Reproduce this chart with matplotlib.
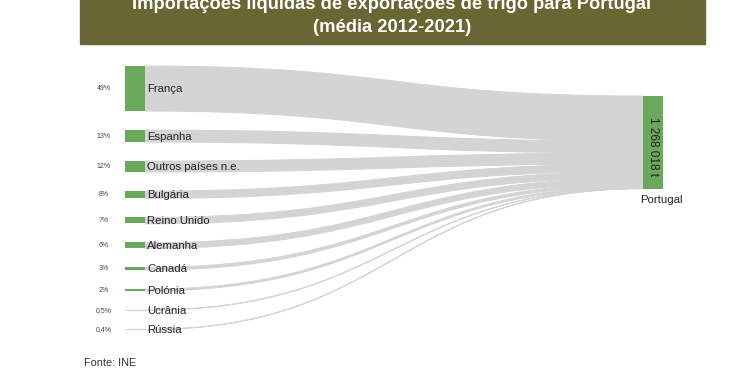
import numpy as np
import matplotlib.pyplot as plt
from matplotlib.patches import Rectangle, PathPatch
from matplotlib.path import Path

plt.rcParams['font.family'] = ['Liberation Sans', 'DejaVu Sans']

# Data: share of Portuguese net wheat imports by origin (average 2012-2021)
paises = ['França', 'Espanha', 'Outros países n.e.', 'Bulgária', 'Reino Unido',
          'Alemanha', 'Canadá', 'Polónia', 'Ucrânia', 'Rússia']
quotas = [49, 13, 12, 8, 7, 6, 3, 2, 0.5, 0.4]
rotulos = ['49%', '13%', '12%', '8%', '7%', '6%', '3%', '2%', '0,5%', '0,4%']
destino = 'Portugal'
total_t = '1 268 018 t'

verde = '#6aa85b'
verde_claro = '#c2dfba'
cinza = '#d4d4d4'

# layout (pixel-like units, y downwards)
k = 0.92        # px per percentage point
gap = 19
x0, x1 = 125, 145     # left nodes
x2, x3 = 643, 663     # target node
top_left = 66
top_right = 96

fig = plt.figure(figsize=(7.4, 3.89), dpi=100)
ax = fig.add_axes([0, 0, 1, 1])
ax.set_xlim(0, 740)
ax.set_ylim(389, 0)
ax.axis('off')

# title banner
ax.add_patch(Rectangle((80, -2), 625, 46, color='#686632', zorder=1))
ax.text(392, 4, 'Importações líquidas de exportações de trigo para Portugal',
        ha='center', va='center', color='white', fontsize=13.2, fontweight='bold', zorder=2)
ax.text(392, 27, '(média 2012-2021)', ha='center', va='center', color='white',
        fontsize=13.2, fontweight='bold', zorder=2)

def band(xa, ya0, ya1, xb, yb0, yb1):
    xm = (xa + xb) / 2
    verts = [(xa, ya0), (xm, ya0), (xm, yb0), (xb, yb0),
             (xb, yb1), (xm, yb1), (xm, ya1), (xa, ya1), (xa, ya0)]
    codes = [Path.MOVETO, Path.CURVE4, Path.CURVE4, Path.CURVE4,
             Path.LINETO, Path.CURVE4, Path.CURVE4, Path.CURVE4, Path.CLOSEPOLY]
    return Path(verts, codes)

y = top_left
yr = top_right
for nome, q, rot in zip(paises, quotas, rotulos):
    h = q * k
    # flow
    p = band(x1, y, y + h, x2, yr, yr + h)
    ax.add_patch(PathPatch(p, facecolor=cinza, edgecolor=cinza, lw=0.7, zorder=2))
    # node
    cor = verde if q >= 1 else verde_claro
    ax.add_patch(Rectangle((x0, y - 0.4), x1 - x0, max(h, 1.2), color=cor, lw=0, zorder=3))
    yc = y + h / 2
    ax.text(x1 + 2, yc + 0.5, nome, ha='left', va='center', fontsize=8.2, color='#222222', zorder=4)
    ax.text(104, yc, rot, ha='center', va='center', fontsize=5, color='#444444', zorder=4)
    y += h + gap
    yr += h

# target node
ax.add_patch(Rectangle((x2, top_right), x3 - x2, yr - top_right, color=verde, lw=0, zorder=3))
ax.text((x2 + x3) / 2, (top_right + yr) / 2 + 4, total_t, rotation=-90, ha='center',
        va='center', fontsize=8.5, color='#222222', zorder=4)
ax.text(661, yr + 11, destino, ha='center', va='center', fontsize=8.2, color='#222222')

ax.text(84, 363, 'Fonte: INE', ha='left', va='center', fontsize=7.8, color='#333333')

fig.savefig('out.png', dpi=100)
